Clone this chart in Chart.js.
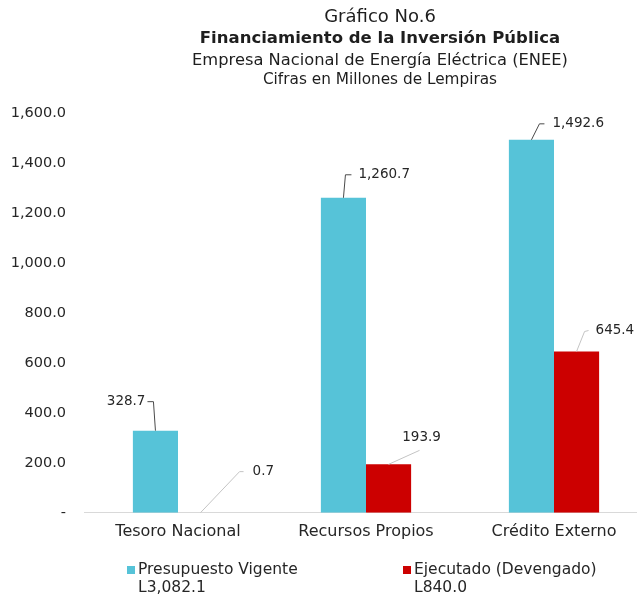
<!DOCTYPE html>
<html>
<head>
<meta charset="utf-8">
<script src="https://cdn.jsdelivr.net/npm/chart.js@4/dist/chart.umd.min.js"></script>
<style>
  html, body { margin: 0; padding: 0; background: #fff; overflow: hidden; width: 637px; height: 596px; }
</style>
</head>
<body>
<canvas id="grafico" width="650" height="596" style="width:650px;height:596px"></canvas>
<script>
var categorias = ['Tesoro Nacional', 'Recursos Propios', 'Crédito Externo'];
var series = ['Presupuesto Vigente', 'Ejecutado (Devengado)'];
var presupuesto = [328.7, 1260.7, 1492.6];
var ejecutado = [0.7, 193.9, 645.4];
var totales = [3082.1, 840.0];
var ticksY = [0, 200, 400, 600, 800, 1000, 1200, 1400, 1600];
var titulos = ['Gráfico No.6', 'Financiamiento de la Inversión Pública',
  'Empresa Nacional de Energía Eléctrica (ENEE)', 'Cifras en Millones de Lempiras'];

var colores = ['#56c3d8', '#cc0000'];
var fuente = '"DejaVu Sans", sans-serif';

// posicion de cada etiqueta respecto al tope de su barra (codo, fin de la guia, texto)
var guias = [
  [ { codo: [-2, -29], fin: [-8, -29], txt: [-10, -29], al: 'right' },
    { codo: [2, -23], fin: [8, -23], txt: [15, -23], al: 'left' },
    { codo: [8, -16], fin: [13, -16], txt: [21, -16], al: 'left' } ],
  [ { codo: [39, -41], fin: [43, -41], txt: [52, -41], al: 'left' },
    { codo: null, fin: [31, -14], txt: [33, -27], al: 'center' },
    { codo: [8, -20], fin: [12, -21], txt: [19, -21], al: 'left' } ]
];
var colorGuia = ['#4a4a4a', '#c4c4c4'];

function fmt(v) {
  return v.toLocaleString('en-US', { minimumFractionDigits: 1, maximumFractionDigits: 1 });
}

var extras = {
  id: 'extras',
  afterDraw: function (chart) {
    var ctx = chart.ctx;
    ctx.save();
    // titulos
    var tf = ['18px', 'bold 16.5px', '16.3px', '15.3px'];
    var ty = [17, 39, 61, 80];
    ctx.fillStyle = '#1e1e1e';
    ctx.textAlign = 'center';
    ctx.textBaseline = 'middle';
    titulos.forEach(function (t, i) {
      ctx.font = tf[i] + ' ' + fuente;
      ctx.fillText(t, 380, ty[i]);
    });

    // etiquetas de datos con lineas guia
    ctx.font = '13.5px ' + fuente;
    chart.data.datasets.forEach(function (ds, d) {
      chart.getDatasetMeta(d).data.forEach(function (bar, i) {
        var g = guias[d][i];
        var bx = bar.x, by = bar.y;
        ctx.strokeStyle = colorGuia[d];
        ctx.lineWidth = 1;
        ctx.beginPath();
        ctx.moveTo(bx, by);
        if (g.codo) ctx.lineTo(bx + g.codo[0], by + g.codo[1]);
        ctx.lineTo(bx + g.fin[0], by + g.fin[1]);
        ctx.stroke();
        ctx.fillStyle = '#262626';
        ctx.textAlign = g.al;
        ctx.fillText(fmt(ds.data[i]), bx + g.txt[0], by + g.txt[1]);
      });
    });

    // leyenda
    var lx = [127, 403];
    ctx.textAlign = 'left';
    ctx.font = '15.5px ' + fuente;
    series.forEach(function (s, i) {
      ctx.fillStyle = colores[i];
      ctx.fillRect(lx[i], 566, 8, 8);
      ctx.fillStyle = '#262626';
      ctx.fillText(s, lx[i] + 11, 570);
      ctx.fillText('L' + fmt(totales[i]), lx[i] + 11, 588);
    });
    ctx.restore();
  }
};

new Chart(document.getElementById('grafico').getContext('2d'), {
  type: 'bar',
  data: {
    labels: categorias,
    datasets: [
      { label: series[0], data: presupuesto, backgroundColor: colores[0] },
      { label: series[1], data: ejecutado, backgroundColor: colores[1] }
    ]
  },
  options: {
    responsive: false,
    animation: false,
    layout: { padding: { top: 113, right: 2, bottom: 46, left: 0 } },
    datasets: { bar: { barPercentage: 1, categoryPercentage: 0.48 } },
    plugins: { legend: { display: false }, tooltip: { enabled: false } },
    scales: {
      x: {
        grid: { display: false, drawTicks: false },
        border: { display: true, color: '#d9d9d9', width: 1 },
        ticks: { color: '#262626', font: { family: fuente, size: 16 }, padding: 9 }
      },
      y: {
        min: 0, max: 1600,
        grid: { display: false, drawTicks: false },
        border: { display: false },
        afterBuildTicks: function (s) { s.ticks = ticksY.map(function (v) { return { value: v }; }); },
        ticks: {
          color: '#262626', font: { family: fuente, size: 14.5 }, padding: 18,
          callback: function (v) { return v === 0 ? '-' : fmt(v); }
        },
        afterFit: function (s) { s.width = 84; }
      }
    }
  },
  plugins: [extras]
});
</script>
</body>
</html>
